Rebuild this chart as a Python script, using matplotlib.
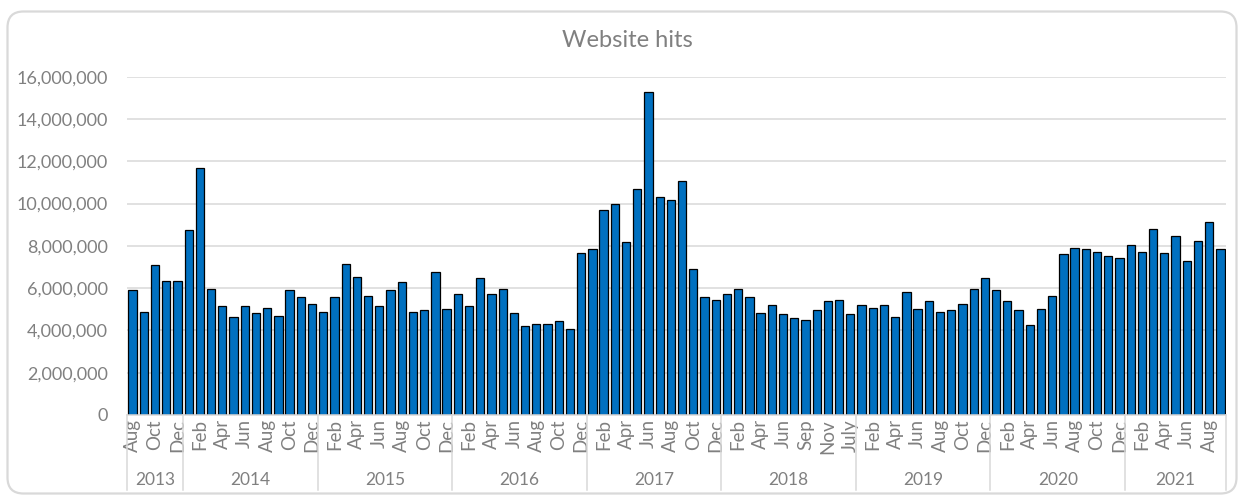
import numpy as np
import matplotlib
matplotlib.use("Agg")
import matplotlib.pyplot as plt
from matplotlib.patches import FancyBboxPatch
from matplotlib.ticker import FuncFormatter, FixedLocator

plt.rcParams['font.family'] = ['Lato', 'DejaVu Sans']

# data (hits, millions)
years = ["2013", "2014", "2015", "2016", "2017", "2018", "2019", "2020", "2021"]
full_year = ["Jan", "Feb", "Mar", "Apr", "May", "Jun", "Jul", "Aug", "Sep", "Oct", "Nov", "Dec"]
months_2013 = ["Aug", "Sep", "Oct", "Nov", "Dec"]
months_2018 = ["Jan", "Feb", "Mar", "Apr", "May", "Jun", "Jul", "Sep", "Oct", "Nov", "Dec", "July"]
months_2021 = ["Jan", "Feb", "Mar", "Apr", "May", "Jun", "Jul", "Aug", "Sep"]
month_labels = [months_2013, full_year, full_year, full_year, full_year,
                months_2018, full_year, full_year, months_2021]

hits_2013 = [5.91, 4.89, 7.09, 6.35, 6.35]
hits_2014 = [8.73, 11.69, 5.96, 5.14, 4.63, 5.14, 4.82, 5.07, 4.70, 5.89, 5.58, 5.26]
hits_2015 = [4.89, 5.58, 7.16, 6.52, 5.64, 5.14, 5.89, 6.27, 4.89, 4.95, 6.78, 5.01]
hits_2016 = [5.71, 5.14, 6.46, 5.71, 5.96, 4.82, 4.19, 4.32, 4.32, 4.44, 4.07, 7.66]
hits_2017 = [7.85, 9.68, 9.99, 8.16, 10.69, 15.29, 10.31, 10.18, 11.06, 6.90, 5.58, 5.45]
hits_2018 = [5.71, 5.96, 5.58, 4.82, 5.20, 4.76, 4.57, 4.51, 4.95, 5.39, 5.45, 4.76]
hits_2019 = [5.20, 5.07, 5.20, 4.63, 5.83, 5.01, 5.39, 4.89, 4.95, 5.26, 5.96, 6.46]
hits_2020 = [5.91, 5.39, 4.95, 4.26, 5.01, 5.64, 7.60, 7.91, 7.85, 7.72, 7.53, 7.41]
hits_2021 = [8.04, 7.72, 8.79, 7.66, 8.48, 7.28, 8.23, 9.11, 7.85]
hits = [hits_2013, hits_2014, hits_2015, hits_2016, hits_2017,
        hits_2018, hits_2019, hits_2020, hits_2021]

values = np.concatenate([np.array(h) * 1e6 for h in hits])
labels = [m for ml in month_labels for m in ml]
x = np.arange(len(values))

grey = "#808080"
light = "#d9d9d9"

fig = plt.figure(figsize=(12.43, 4.97), dpi=100)
frame = FancyBboxPatch((0.075, 0.035), 12.29, 4.82, boxstyle="round,pad=0,rounding_size=0.16",
                       transform=fig.dpi_scale_trans, facecolor="none", edgecolor=light,
                       linewidth=1.6, zorder=-1)
fig.patches.append(frame)

ax = fig.add_axes([0.1022, 0.165, 0.8841, 0.6807])
ax.set_facecolor("none")
ax.bar(x, values, width=0.74, color="#0070C0", edgecolor="black", linewidth=0.9, zorder=2)

ax.set_xlim(-0.5, len(values) - 0.5)
ax.set_ylim(0, 16e6)
ax.set_yticks(np.arange(0, 16e6 + 1, 2e6))
ax.yaxis.set_major_formatter(FuncFormatter(lambda v, p: "{:,.0f}".format(v)))
ax.grid(axis="y", color=light, linewidth=1.1, zorder=0)
ax.set_axisbelow(True)

for s in ["top", "right", "left"]:
    ax.spines[s].set_visible(False)
ax.spines["bottom"].set_color(light)
ax.spines["bottom"].set_linewidth(1.1)

ax.tick_params(axis="y", length=0, pad=14, labelsize=13, labelcolor=grey)
shown = x[::2]
ax.set_xticks(shown)
ax.set_xticklabels([labels[i] for i in shown], rotation=90, fontsize=13.5, color=grey)
ax.tick_params(axis="x", which="major", length=0, pad=3)
ax.xaxis.set_minor_locator(FixedLocator(x))
ax.tick_params(axis="x", which="minor", direction="in", length=3, color=light, width=1)

# year level of the category axis
tr = ax.get_xaxis_transform()
start = 0
bounds = [-0.5]
for yr, h in zip(years, hits):
    end = start + len(h)
    ax.text((start + end - 1) / 2, -0.192, yr, transform=tr, ha="center", va="center",
            fontsize=12.5, color=grey)
    bounds.append(end - 0.5)
    start = end
for b in bounds:
    ax.plot([b, b], [0, -0.222], transform=tr, color=light, linewidth=1.1, clip_on=False)

fig.text(0.5045, 0.918, "Website hits", ha="center", va="center", fontsize=17, color=grey)

fig.savefig("out.png", dpi=100)
